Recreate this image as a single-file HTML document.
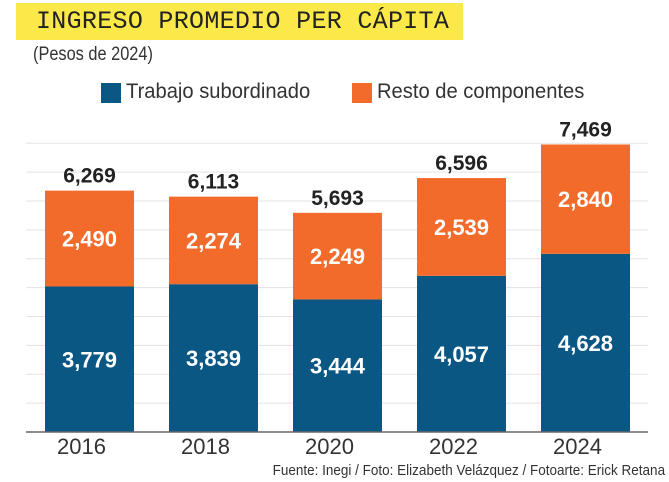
<!DOCTYPE html>
<html><head><meta charset="utf-8"><style>
body{margin:0;width:669px;height:482px;background:#fff;overflow:hidden;font-family:"Liberation Sans",sans-serif;position:relative}
.t{position:absolute;white-space:nowrap}
</style></head><body>
<div class="t" style="left:16px;top:3px;width:447px;height:37px;background:#fbe94a"></div>
<div class="t" style="left:36px;top:7px;font-family:'Liberation Mono',monospace;font-size:25px;color:#222;letter-spacing:0.3px">INGRESO PROMEDIO PER CÁPITA</div>
<div class="t" style="left:33px;top:44px;font-size:19px;color:#333;transform:scaleX(0.86);transform-origin:left">(Pesos de 2024)</div>
<div class="t" style="left:101px;top:83px;width:20px;height:20px;background:#0b5784"></div>
<div class="t" style="left:126px;top:80px;font-size:21px;color:#333;transform:scaleX(0.96);transform-origin:left">Trabajo subordinado</div>
<div class="t" style="left:352px;top:83px;width:20px;height:20px;background:#f26b2a"></div>
<div class="t" style="left:377px;top:80px;font-size:21px;color:#333;transform:scaleX(0.96);transform-origin:left">Resto de componentes</div>
<svg id="chart" width="669" height="482" style="position:absolute;left:0;top:0"></svg>
<div class="t" style="right:4px;top:462px;font-size:15px;color:#333;transform:scaleX(0.9);transform-origin:right">Fuente: Inegi / Foto: Elizabeth Velázquez / Fotoarte: Erick Retana</div>
<script>
const years=["2016","2018","2020","2022","2024"];
const trabajo=[3779,3839,3444,4057,4628];
const resto=[2490,2274,2249,2539,2840];
const totals=[6269,6113,5693,6596,7469];
const gridStep=750;
const svg=document.getElementById('chart');
const NS='http://www.w3.org/2000/svg';
const base=432,scale=0.0385,x0=45,step=124,bw=89;
const y=v=>base-v*scale;
const x=i=>x0+i*step;
const fmt=v=>v.toLocaleString('en-US');
function el(t,a){const e=document.createElementNS(NS,t);for(const k in a)e.setAttribute(k,a[k]);svg.appendChild(e);return e;}
for(let g=gridStep;y(g)>125;g+=gridStep){
 const l=el('line',{x1:26,x2:648,y1:y(g),y2:y(g),stroke:'#e3e3e3','stroke-width':1});
 
 
}
years.forEach((yr,i)=>{
 const b=el('rect',{x:x(i),y:y(trabajo[i]),width:bw,height:trabajo[i]*scale,fill:'#0b5784'});
 
 
 const r=el('rect',{x:x(i),y:y(trabajo[i]+resto[i]),width:bw,height:resto[i]*scale,fill:'#f26b2a'});
 
 
 const cx=x(i)+bw/2;
 const t1=el('text',{x:cx,y:y(trabajo[i]/2)+8,'text-anchor':'middle','font-size':22,'font-weight':'bold',fill:'#fff','font-family':'Liberation Sans'});
 t1.textContent=fmt(trabajo[i]);
 
 
 const t2=el('text',{x:cx,y:y(trabajo[i]+resto[i]/2)+8,'text-anchor':'middle','font-size':22,'font-weight':'bold',fill:'#fff','font-family':'Liberation Sans'});
 t2.textContent=fmt(resto[i]);
 
 
 const t3=el('text',{x:cx,y:y(totals[i])-8,'text-anchor':'middle','font-size':21,'font-weight':'bold',fill:'#222','font-family':'Liberation Sans'});
 t3.textContent=fmt(totals[i]);
 
 
 const t4=el('text',{x:cx-8,y:base+22,'text-anchor':'middle','font-size':22,fill:'#333','font-family':'Liberation Sans'});
 t4.textContent=yr;
 
 
});
const ax=el('line',{x1:26,x2:648,y1:base,y2:base,stroke:'#666','stroke-width':1.5});


</script>
</body></html>
